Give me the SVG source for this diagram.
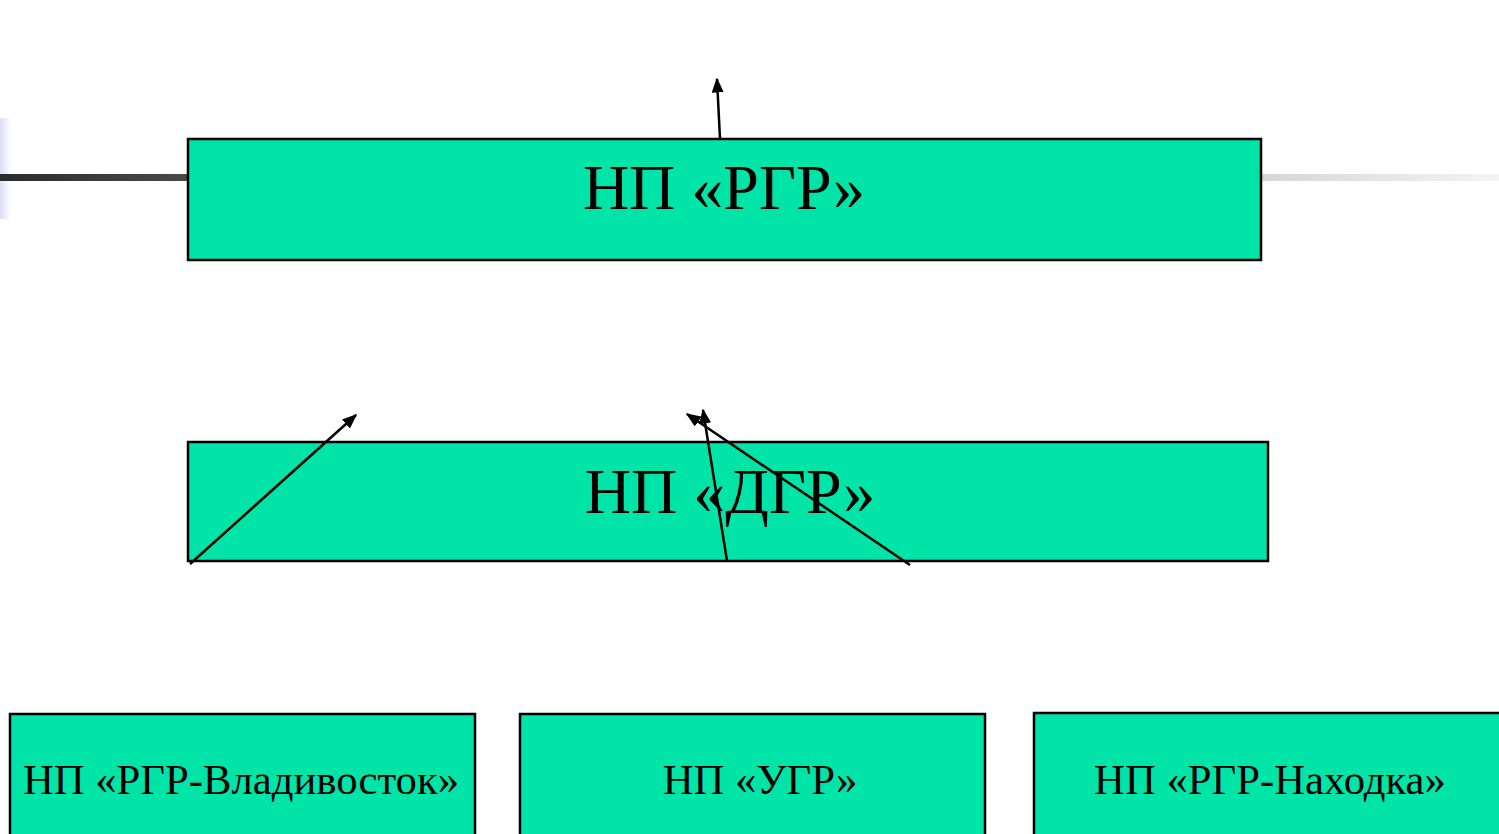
<svg xmlns="http://www.w3.org/2000/svg" width="1499" height="834" viewBox="0 0 1499 834">
<defs>
<linearGradient id="lav" x1="0" y1="0" x2="1" y2="0"><stop offset="0" stop-color="#dcdcf8"/><stop offset="1" stop-color="#ffffff"/></linearGradient>
<linearGradient id="dark" x1="0" y1="0" x2="1" y2="0"><stop offset="0" stop-color="#2c2c2c"/><stop offset="1" stop-color="#4a4a4a"/></linearGradient>
<linearGradient id="light" x1="0" y1="0" x2="1" y2="0"><stop offset="0" stop-color="#d6d6d6"/><stop offset="1" stop-color="#f4f4f4"/></linearGradient>
<marker id="ah" viewBox="0 0 10 10" refX="9" refY="5" markerWidth="15" markerHeight="12" markerUnits="userSpaceOnUse" orient="auto" preserveAspectRatio="none"><path d="M0,0 L10,5 L0,10 z" fill="#000"/></marker>
</defs>
<style>
.box{fill:#00e4a8;stroke:#000;stroke-width:2.5}
.big{font-family:"Liberation Serif","Times New Roman",serif;font-size:64px;fill:#000;text-anchor:middle}
.small{font-family:"Liberation Serif","Times New Roman",serif;font-size:42.7px;fill:#000;text-anchor:middle}
.con{stroke:#000;stroke-width:2.5;fill:none;marker-end:url(#ah)}
</style>
<rect x="0" y="0" width="1499" height="834" fill="#fff"/>
<rect x="0" y="118" width="11" height="101" fill="url(#lav)"/>
<rect x="0" y="174" width="190" height="7" fill="url(#dark)"/>
<rect x="1262" y="174" width="237" height="7" fill="url(#light)"/>
<g id="n-rgr"><rect class="box" x="188" y="139" width="1073" height="121"/><text class="big" x="724" y="209">НП «РГР»</text></g>
<g id="n-dgr"><rect class="box" x="188" y="442" width="1080" height="119"/><text class="big" x="730" y="513">НП «ДГР»</text></g>
<g id="n-vlad"><rect class="box" x="10" y="714" width="465" height="130"/><text class="small" x="241" y="794">НП «РГР-Владивосток»</text></g>
<g id="n-ugr"><rect class="box" x="520" y="714" width="465" height="130"/><text class="small" x="760" y="794">НП «УГР»</text></g>
<g id="n-nah"><rect class="box" x="1034" y="713" width="475" height="131"/><text class="small" x="1270" y="794">НП «РГР-Находка»</text></g>
<g id="connectors">
<line class="con" x1="720" y1="139" x2="717" y2="79"/>
<line class="con" x1="190" y1="564" x2="356" y2="415"/>
<line class="con" x1="727" y1="561" x2="703" y2="410"/>
<line class="con" x1="910" y1="565" x2="687" y2="414"/>
</g>
</svg>
